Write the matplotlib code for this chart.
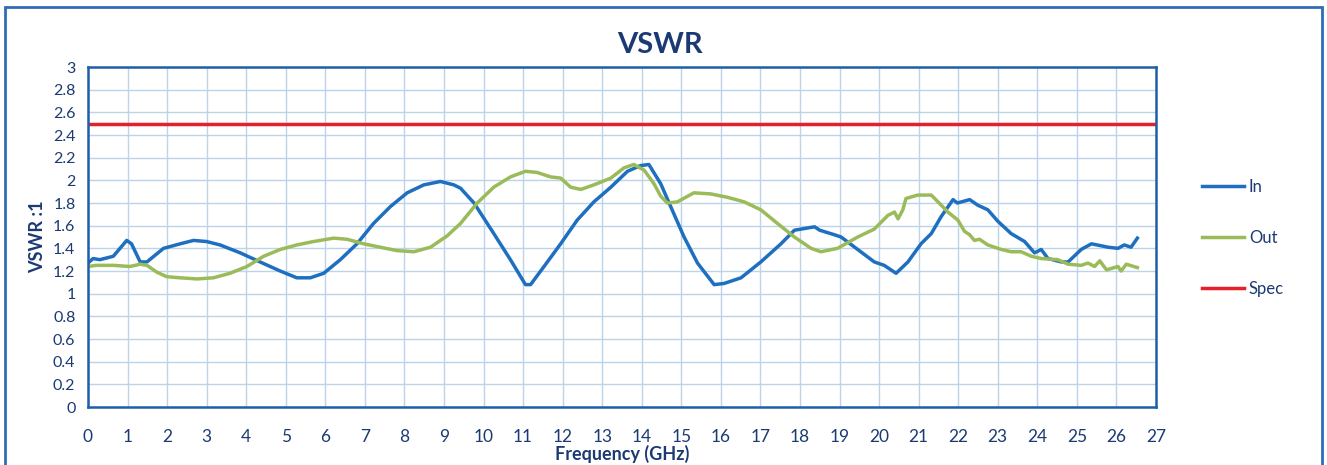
import matplotlib
matplotlib.use("Agg")
import matplotlib.pyplot as plt
from matplotlib.patches import Rectangle

plt.rcParams['font.family'] = ['Lato', 'DejaVu Sans']

# VSWR data
in_freq = [0, 0.13, 0.3, 0.64, 0.98, 1.1, 1.32, 1.49, 1.91, 2.33, 2.67, 3.0, 3.34, 3.85,
           4.35, 4.86, 5.28, 5.62, 5.96, 6.38, 6.80, 7.22, 7.65, 8.07, 8.49, 8.91, 9.25,
           9.42, 9.76, 10.26, 10.68, 11.06, 11.19, 11.53, 11.95, 12.37, 12.79, 13.22,
           13.64, 13.97, 14.18, 14.48, 14.73, 15.07, 15.41, 15.83, 16.08, 16.51, 17.01,
           17.52, 17.86, 18.37, 18.5, 18.87, 19.04, 19.46, 19.88, 20.13, 20.43, 20.73,
           21.06, 21.32, 21.57, 21.87, 21.98, 22.29, 22.5, 22.75, 23.0, 23.34, 23.68,
           23.93, 24.1, 24.27, 24.61, 24.78, 25.11, 25.37, 25.79, 26.04, 26.2, 26.37, 26.53]
in_vswr = [1.27, 1.31, 1.30, 1.33, 1.47, 1.44, 1.28, 1.28, 1.40, 1.44, 1.47, 1.46, 1.43, 1.36,
           1.28, 1.20, 1.14, 1.14, 1.18, 1.30, 1.44, 1.62, 1.77, 1.89, 1.96, 1.99, 1.96,
           1.93, 1.80, 1.53, 1.30, 1.08, 1.08, 1.24, 1.44, 1.65, 1.81, 1.94,
           2.08, 2.13, 2.14, 1.97, 1.77, 1.50, 1.27, 1.08, 1.09, 1.14, 1.28,
           1.44, 1.56, 1.59, 1.56, 1.52, 1.50, 1.39, 1.28, 1.25, 1.18, 1.28,
           1.44, 1.53, 1.68, 1.83, 1.80, 1.83, 1.78, 1.74, 1.64, 1.53, 1.46,
           1.36, 1.39, 1.31, 1.28, 1.28, 1.39, 1.44, 1.41, 1.40, 1.43, 1.41, 1.49]

out_freq = [0, 0.21, 0.64, 1.06, 1.32, 1.49, 1.74, 1.99, 2.33, 2.76, 3.17, 3.59, 4.02, 4.44,
            4.86, 5.28, 5.70, 6.21, 6.55, 6.97, 7.39, 7.81, 8.24, 8.66, 9.08, 9.42, 9.84,
            10.26, 10.68, 11.06, 11.35, 11.70, 11.95, 12.2, 12.46, 12.79, 13.22, 13.55,
            13.8, 14.06, 14.31, 14.48, 14.65, 14.90, 15.32, 15.75, 16.17, 16.59, 17.01,
            17.43, 17.86, 18.28, 18.53, 18.95, 19.46, 19.88, 20.22, 20.39, 20.48, 20.60,
            20.68, 20.98, 21.32, 21.49, 21.74, 21.99, 22.16, 22.29, 22.41, 22.54, 22.75,
            23.09, 23.34, 23.59, 23.85, 24.1, 24.52, 24.78, 25.11, 25.28, 25.45, 25.58,
            25.75, 26.04, 26.12, 26.25, 26.53]
out_vswr = [1.24, 1.25, 1.25, 1.24, 1.26, 1.25, 1.19, 1.15, 1.14, 1.13, 1.14, 1.18, 1.24, 1.33,
            1.39, 1.43, 1.46, 1.49, 1.48, 1.44, 1.41, 1.38, 1.37, 1.41, 1.51, 1.62, 1.80,
            1.94, 2.03, 2.08, 2.07, 2.03, 2.02, 1.94, 1.92, 1.96, 2.02, 2.11,
            2.14, 2.09, 1.97, 1.86, 1.80, 1.81, 1.89, 1.88, 1.85, 1.81, 1.74,
            1.62, 1.50, 1.40, 1.37, 1.40, 1.50, 1.57, 1.69, 1.72, 1.66, 1.74,
            1.84, 1.87, 1.87, 1.81, 1.72, 1.65, 1.55, 1.52, 1.47, 1.48, 1.43,
            1.39, 1.37, 1.37, 1.33, 1.31, 1.30, 1.26, 1.25, 1.27, 1.24, 1.29,
            1.21, 1.24, 1.20, 1.26, 1.23]

spec_freq = [0, 27]
spec_vswr = [2.5, 2.5]

x_ticks = list(range(0, 28))
y_ticks = [0, 0.2, 0.4, 0.6, 0.8, 1, 1.2, 1.4, 1.6, 1.8, 2, 2.2, 2.4, 2.6, 2.8, 3]

navy = '#1B3A73'
frame = '#1F5FA8'

fig = plt.figure(figsize=(13.27, 4.65), dpi=100)
ax = fig.add_axes([0.0663, 0.1247, 0.8048, 0.7312])

ax.plot(in_freq, in_vswr, color='#1F6FC0', lw=2.5, label='In')
ax.plot(out_freq, out_vswr, color='#9BBB59', lw=2.5, label='Out')
ax.plot(spec_freq, spec_vswr, color='#E5202A', lw=2.5, label='Spec')

ax.set_xlim(0, 27)
ax.set_ylim(0, 3)
ax.set_xticks(x_ticks)
ax.set_yticks(y_ticks)
ax.set_yticklabels([f'{v:g}' for v in y_ticks])
ax.grid(True, color='#BCD3EA', lw=1)
ax.set_axisbelow(True)
ax.tick_params(axis='x', length=0, pad=16, labelsize=12.5, labelcolor=navy)
ax.tick_params(axis='y', length=0, pad=9, labelsize=11.5, labelcolor=navy)
for s in ax.spines.values():
    s.set_color(frame)
    s.set_linewidth(1.8)

ax.set_xlabel('Frequency (GHz)', fontsize=13, fontweight='bold', color=navy, labelpad=0)
ax.set_ylabel('VSWR :1', fontsize=13, fontweight='bold', color=navy, labelpad=5)
fig.text(0.497, 0.903, 'VSWR', ha='center', va='center', fontsize=21,
         fontweight='bold', color=navy)

ax.legend(loc='center left', bbox_to_anchor=(0.906, 0.488), bbox_transform=fig.transFigure,
          frameon=False, fontsize=12, labelspacing=2.1, handlelength=2.5,
          handletextpad=0.3, borderpad=0, borderaxespad=0, labelcolor=navy)

# outer chart border
fig.patches.append(Rectangle((0.0038, -0.05), 0.9924, 1.035, transform=fig.transFigure,
                             fill=False, edgecolor='#2E6DB4', lw=2))

fig.savefig('out.png', dpi=100)
